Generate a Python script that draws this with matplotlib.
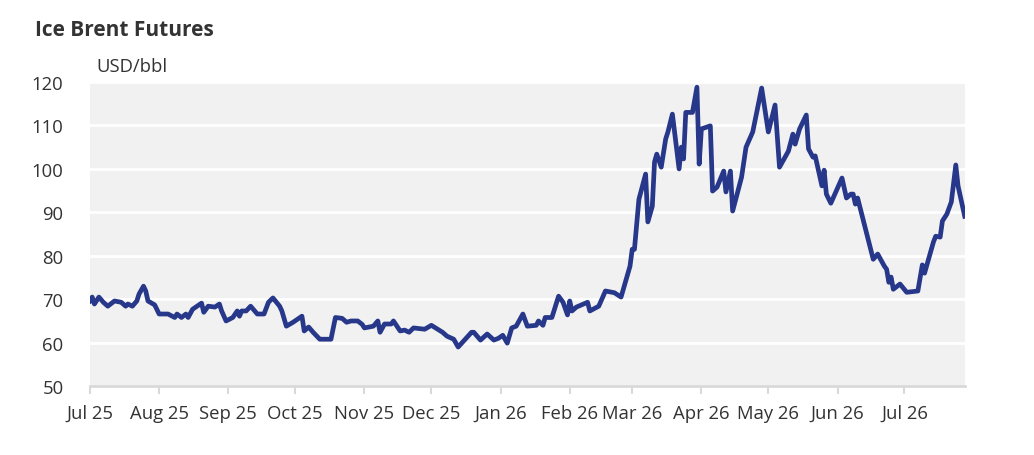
import matplotlib.pyplot as plt
import matplotlib.dates as mdates
import pandas as pd

# Brent futures, USD/bbl
dates = [
    '2025-07-01', '2025-07-02', '2025-07-03', '2025-07-05', '2025-07-07', '2025-07-09',
    '2025-07-12', '2025-07-15', '2025-07-17', '2025-07-18', '2025-07-20', '2025-07-22',
    '2025-07-23', '2025-07-25', '2025-07-26', '2025-07-27', '2025-07-30', '2025-08-01',
    '2025-08-05', '2025-08-08', '2025-08-09', '2025-08-11', '2025-08-13', '2025-08-14',
    '2025-08-16', '2025-08-20', '2025-08-21', '2025-08-23', '2025-08-26', '2025-08-28',
    '2025-08-29', '2025-08-31', '2025-09-03', '2025-09-05', '2025-09-06', '2025-09-07',
    '2025-09-09', '2025-09-11', '2025-09-14', '2025-09-17', '2025-09-19', '2025-09-21',
    '2025-09-24', '2025-09-25', '2025-09-27', '2025-09-30', '2025-10-04', '2025-10-05',
    '2025-10-07', '2025-10-09', '2025-10-12', '2025-10-17', '2025-10-19', '2025-10-22',
    '2025-10-24', '2025-10-26', '2025-10-29', '2025-10-31', '2025-11-01', '2025-11-05',
    '2025-11-07', '2025-11-08', '2025-11-10', '2025-11-13', '2025-11-14', '2025-11-17',
    '2025-11-19', '2025-11-21', '2025-11-23', '2025-11-28', '2025-12-01', '2025-12-06',
    '2025-12-08', '2025-12-11', '2025-12-13', '2025-12-19', '2025-12-20', '2025-12-23',
    '2025-12-26', '2025-12-29', '2025-12-31', '2026-01-02', '2026-01-04', '2026-01-06',
    '2026-01-08', '2026-01-11', '2026-01-13', '2026-01-17', '2026-01-18', '2026-01-20',
    '2026-01-21', '2026-01-24', '2026-01-27', '2026-01-29', '2026-01-31', '2026-02-01',
    '2026-02-02', '2026-02-04', '2026-02-09', '2026-02-10', '2026-02-14', '2026-02-17',
    '2026-02-21', '2026-02-24', '2026-02-28', '2026-03-01', '2026-03-02', '2026-03-04',
    '2026-03-07', '2026-03-08', '2026-03-10', '2026-03-11', '2026-03-12', '2026-03-14',
    '2026-03-16', '2026-03-17', '2026-03-19', '2026-03-22', '2026-03-23', '2026-03-24',
    '2026-03-25', '2026-03-28', '2026-03-30', '2026-03-31', '2026-04-01', '2026-04-05',
    '2026-04-06', '2026-04-08', '2026-04-11', '2026-04-12', '2026-04-14', '2026-04-15',
    '2026-04-19', '2026-04-21', '2026-04-24', '2026-04-28', '2026-05-01', '2026-05-04',
    '2026-05-06', '2026-05-10', '2026-05-12', '2026-05-13', '2026-05-15', '2026-05-18',
    '2026-05-19', '2026-05-21', '2026-05-22', '2026-05-25', '2026-05-26', '2026-05-27',
    '2026-05-29', '2026-06-03', '2026-06-05', '2026-06-07', '2026-06-08', '2026-06-09',
    '2026-06-10', '2026-06-13', '2026-06-15', '2026-06-17', '2026-06-19', '2026-06-22',
    '2026-06-23', '2026-06-24', '2026-06-25', '2026-06-26', '2026-06-29', '2026-07-02',
    '2026-07-07', '2026-07-09', '2026-07-10', '2026-07-14', '2026-07-15', '2026-07-17',
    '2026-07-18', '2026-07-20', '2026-07-22', '2026-07-24', '2026-07-25', '2026-07-28',
]
prices = [
    69.6, 70.5, 68.9, 70.5, 69.3, 68.4,
    69.6, 69.3, 68.4, 68.9, 68.4, 69.6,
    71.2, 73.0, 71.9, 69.6, 68.7, 66.6,
    66.6, 65.8, 66.6, 65.8, 66.6, 65.8,
    67.7, 69.1, 67.0, 68.4, 68.2, 68.9,
    67.3, 65.0, 65.8, 67.3, 66.1, 67.3,
    67.3, 68.4, 66.6, 66.6, 69.3, 70.3,
    68.4, 67.3, 63.8, 64.7, 66.1, 62.7,
    63.6, 62.4, 60.8, 60.8, 65.8, 65.6,
    64.7, 65.0, 65.0, 64.2, 63.4, 63.8,
    65.0, 62.4, 64.3, 64.3, 65.0, 62.7,
    62.9, 62.4, 63.4, 63.1, 64.0, 62.4,
    61.5, 60.8, 59.0, 62.4, 62.4, 60.6,
    62.0, 60.6, 61.0, 61.7, 59.9, 63.4,
    63.8, 66.6, 63.8, 64.0, 65.0, 64.0,
    65.8, 65.8, 70.7, 69.3, 66.4, 69.6,
    67.3, 68.2, 69.3, 67.3, 68.4, 71.9,
    71.5, 70.5, 77.6, 81.5, 81.5, 93.0,
    98.8, 87.8, 91.4, 101.6, 103.4, 100.4,
    106.9, 108.5, 112.6, 100.0, 105.0, 102.3,
    113.0, 113.0, 118.8, 101.1, 109.2, 109.9,
    94.9, 95.8, 99.5, 94.7, 99.5, 90.3,
    98.1, 105.0, 108.5, 118.6, 108.5, 114.7,
    100.4, 104.1, 108.0, 105.7, 109.2, 112.4,
    104.6, 102.7, 103.0, 96.1, 99.7, 94.2,
    92.1, 97.9, 93.3, 94.2, 94.2, 91.9,
    93.3, 87.3, 83.2, 79.2, 80.4, 77.6,
    76.9, 73.9, 75.1, 72.3, 73.5, 71.6,
    71.9, 77.9, 76.0, 83.2, 84.5, 84.3,
    88.0, 89.6, 92.4, 100.9, 96.1, 89.1,
]
tick_months = pd.date_range('2025-07-01', '2026-07-01', freq='MS')

text_col = '#333333'
plt.rcParams['font.family'] = ['Open Sans', 'DejaVu Sans']

fig = plt.figure(figsize=(10.34, 4.56), dpi=100)
ax = fig.add_axes([0.087, 0.151, 0.846, 0.667])

x = pd.to_datetime(dates)
ax.plot(x, prices, color='#27378a', lw=3.4, solid_joinstyle='round', zorder=3)

ax.set_facecolor('#f1f1f1')
ax.set_ylim(50, 120)
ax.set_yticks(range(50, 121, 10))
ax.set_xlim(x[0], x[-1])
ax.set_xticks(tick_months)
ax.xaxis.set_major_formatter(mdates.DateFormatter('%b %y'))
ax.grid(axis='y', color='white', lw=2)
ax.set_axisbelow(True)

for s in ['top', 'right', 'left']:
    ax.spines[s].set_visible(False)
ax.spines['bottom'].set_color('#d9d9d9')
ax.spines['bottom'].set_linewidth(2)

ax.tick_params(axis='y', length=0, pad=19, labelsize=13.3, labelcolor=text_col)
ax.tick_params(axis='x', length=6, width=1.5, color='#d9d9d9', pad=7,
               labelsize=13.3, labelcolor=text_col)

fig.text(35 / 1034, 1 - 30 / 456, 'Ice Brent Futures', fontsize=15, fontweight='bold',
         color=text_col, va='center', ha='left')
fig.text(96 / 1034, 1 - 67 / 456, 'USD/bbl', fontsize=13.3, color=text_col,
         va='center', ha='left')

fig.savefig('out.png', dpi=100)
